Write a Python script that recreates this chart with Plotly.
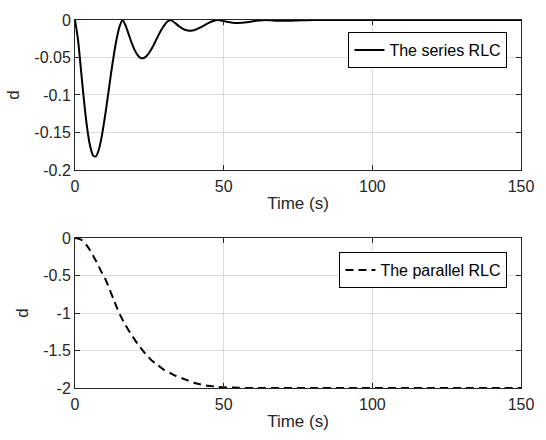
import plotly.graph_objects as go

# ---- data ----
t_series = list(range(0, 65)) + [66, 68, 70, 72, 74, 76, 78, 80, 90, 100, 110, 120, 130, 140, 150]
d_series = [
    0.0, -0.0260, -0.0660, -0.1066, -0.1414, -0.1665, -0.1801, -0.1820, -0.1730, -0.1552,
    -0.1310, -0.1033, -0.0748, -0.0481, -0.0254, -0.0085, 0.0,
    -0.0073, -0.0185, -0.0298, -0.0396, -0.0466, -0.0504, -0.0509, -0.0484, -0.0434,
    -0.0367, -0.0289, -0.0209, -0.0135, -0.0071, -0.0024, 0.0,
    -0.0020, -0.0052, -0.0084, -0.0111, -0.0130, -0.0141, -0.0143, -0.0136, -0.0122,
    -0.0103, -0.0081, -0.0059, -0.0038, -0.0020, -0.0007, 0.0,
    -0.0006, -0.0014, -0.0023, -0.0031, -0.0037, -0.0039, -0.0040, -0.0038, -0.0034,
    -0.0029, -0.0023, -0.0016, -0.0011, -0.0006, -0.0002, 0.0,
    -0.0004, -0.0009, -0.0011, -0.0011, -0.0008, -0.0005, -0.0002, 0.0,
    0.0, 0.0, 0.0, 0.0, 0.0, 0.0, 0.0,
]

t_parallel = list(range(0, 31)) + [32, 34, 36, 38, 40, 42, 44, 46, 48, 50, 55, 60, 70, 80, 90, 100, 110, 120, 130, 140, 150]
d_parallel = [
    0.0, -0.005, -0.02, -0.05, -0.10, -0.16, -0.23, -0.30, -0.38, -0.46,
    -0.53, -0.62, -0.72, -0.82, -0.92, -1.01, -1.09, -1.16, -1.23, -1.29,
    -1.35, -1.41, -1.46, -1.51, -1.56, -1.60, -1.64, -1.67, -1.70, -1.73, -1.76,
    -1.80, -1.84, -1.87, -1.90, -1.93, -1.95, -1.965, -1.975, -1.985, -1.99,
    -1.997, -2.0, -2.0, -2.0, -2.0, -2.0, -2.0, -2.0, -2.0, -2.0, -2.0,
]

x_ticks = [0, 50, 100, 150]
x_ticktext = ["0", "50", "100", "150"]
y1_ticks = [-0.2, -0.15, -0.1, -0.05, 0]
y1_ticktext = ["-0.2", "-0.15", "-0.1", "-0.05", "0"]
y2_ticks = [-2, -1.5, -1, -0.5, 0]
y2_ticktext = ["-2", "-1.5", "-1", "-0.5", "0"]

name_series = "The series RLC"
name_parallel = "The parallel RLC"

FONT = "Liberation Sans, Arial, sans-serif"
AX = "#262626"
GRID = "#dcdcdc"
TICK_SIZE = 16
TITLE_SIZE = 17
LEG_SIZE = 16

fig = go.Figure()
fig.add_trace(go.Scatter(x=t_series, y=d_series, mode="lines", name=name_series,
                         line=dict(color="black", width=2, shape="spline", smoothing=0.6),
                         xaxis="x", yaxis="y", legend="legend"))
fig.add_trace(go.Scatter(x=t_parallel, y=d_parallel, mode="lines", name=name_parallel,
                         line=dict(color="black", width=2, dash="8px,5px", shape="spline", smoothing=0.6),
                         xaxis="x2", yaxis="y2", legend="legend2"))

common_x = dict(range=[0, 150], tickvals=x_ticks, ticktext=x_ticktext, showgrid=True, gridcolor=GRID,
                gridwidth=1, showline=True, linecolor=AX, linewidth=1, mirror="ticks", ticks="inside",
                ticklen=5, tickcolor=AX, zeroline=False, ticklabelstandoff=2,
                tickfont=dict(family=FONT, size=TICK_SIZE, color=AX),
                title=dict(text="Time (s)", font=dict(family=FONT, size=TITLE_SIZE, color=AX), standoff=2))
common_y = dict(showgrid=True, gridcolor=GRID, gridwidth=1, showline=True, linecolor=AX, linewidth=1,
                mirror="ticks", ticks="inside", ticklen=5, tickcolor=AX, zeroline=False,
                tickfont=dict(family=FONT, size=TICK_SIZE, color=AX),
                title=dict(text="d", font=dict(family=FONT, size=TITLE_SIZE, color=AX), standoff=10))

fig.update_layout(
    width=546, height=440,
    margin=dict(l=71, r=15, t=15, b=52),
    paper_bgcolor="white", plot_bgcolor="white",
    font=dict(family=FONT, size=TICK_SIZE, color=AX),
    xaxis=dict(domain=[0, 1], anchor="y", **common_x),
    yaxis=dict(domain=[0.5925, 1], anchor="x", range=[-0.2, 0], tickvals=y1_ticks, ticktext=y1_ticktext, **common_y),
    xaxis2=dict(domain=[0, 1], anchor="y2", **common_x),
    yaxis2=dict(domain=[0, 0.4075], anchor="x2", range=[-2, 0], tickvals=y2_ticks, ticktext=y2_ticktext, **common_y),
    legend=dict(x=0.9696, y=0.967, xanchor="right", yanchor="top", bgcolor="white",
                bordercolor="black", borderwidth=1, font=dict(family=FONT, size=LEG_SIZE, color="black")),
    legend2=dict(x=0.9696, y=0.369, xanchor="right", yanchor="top", bgcolor="white",
                 bordercolor="black", borderwidth=1, font=dict(family=FONT, size=LEG_SIZE, color="black")),
    showlegend=True,
)

fig.write_html("out.html", config={"displayModeBar": False},
               post_script="document.body.style.margin='0px';")
